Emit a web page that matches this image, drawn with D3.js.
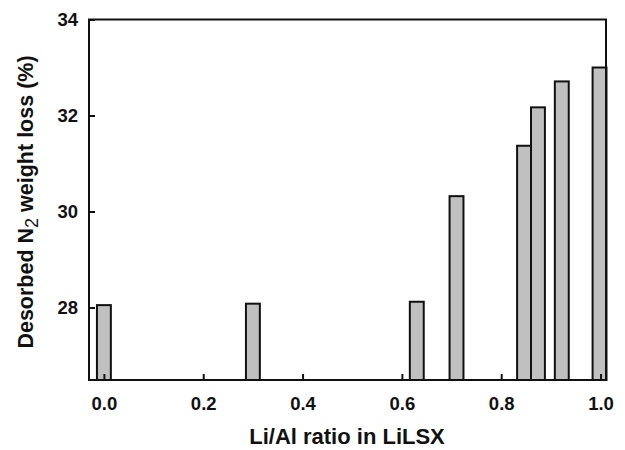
<!DOCTYPE html>
<html>
<head>
<meta charset="utf-8">
<script src="https://cdn.jsdelivr.net/npm/d3@7"></script>
<style>
  body { margin: 0; background: #fff; }
  text { font-family: "Liberation Sans", Arial, sans-serif; font-weight: bold; fill: #111; }
</style>
</head>
<body>
<svg width="625" height="450"></svg>
<script>
// Li/Al ratio and desorbed N2 weight loss (%)
var ratios = [0.0, 0.30, 0.63, 0.71, 0.846, 0.874, 0.922, 0.998];
var losses = [28.05, 28.08, 28.12, 30.32, 31.37, 32.17, 32.71, 33.0];
var xTicks = [0.0, 0.2, 0.4, 0.6, 0.8, 1.0];
var yTicks = [28, 30, 32, 34];

var svg = d3.select("svg");
var mLeft = 89, mRight = 606, mTop = 19.5, mBottom = 380;

var x = d3.scaleLinear().domain([-0.03, 1.011]).range([mLeft, mRight]);
var y = d3.scaleLinear().domain([26.49, 34]).range([mBottom, mTop]);

var barW = x(0.028) - x(0);

// bars
svg.append("g")
    .selectAll("rect")
    .data(ratios)
    .enter()
    .append("rect")
    .attr("x", function(d) { return x(d) - barW / 2; })
    .attr("y", function(d, i) { return y(losses[i]); })
    .attr("width", barW)
    .attr("height", function(d, i) { return mBottom - y(losses[i]); })
    .attr("fill", "#c0c0c0")
    .attr("stroke", "#111")
    .attr("stroke-width", 2);

// axes (ticks pointing inward)
var xAxis = svg.append("g")
    .attr("transform", "translate(0," + mBottom + ")")
    .call(d3.axisBottom(x).tickValues(xTicks).tickFormat(d3.format(".1f")).tickSize(-6).tickPadding(17));
var yAxis = svg.append("g")
    .attr("transform", "translate(" + mLeft + ",0)")
    .call(d3.axisLeft(y).tickValues(yTicks).tickSize(-6).tickPadding(11));

[xAxis, yAxis].forEach(function(a) {
    a.select(".domain").remove();
    a.selectAll("line").attr("stroke", "#111").attr("stroke-width", 2);
    a.selectAll("text").style("font-size", "18.5px").attr("fill", "#111");
});

// frame
svg.append("rect")
    .attr("x", mLeft).attr("y", mTop)
    .attr("width", mRight - mLeft).attr("height", mBottom - mTop)
    .attr("fill", "none")
    .attr("stroke", "#111")
    .attr("stroke-width", 2);

// titles
svg.append("text")
    .attr("x", 347)
    .attr("y", 444)
    .attr("text-anchor", "middle")
    .style("font-size", "22px")
    .text("Li/Al ratio in LiLSX");

var yt = svg.append("text")
    .attr("transform", "translate(33,202) rotate(-90)")
    .attr("text-anchor", "middle")
    .style("font-size", "21.5px");
yt.append("tspan").text("Desorbed N");
yt.append("tspan").attr("dy", 5).style("font-size", "18px").style("font-weight", "normal").text("2");
yt.append("tspan").attr("dy", -5).text(" weight loss (%)");
</script>
</body>
</html>
